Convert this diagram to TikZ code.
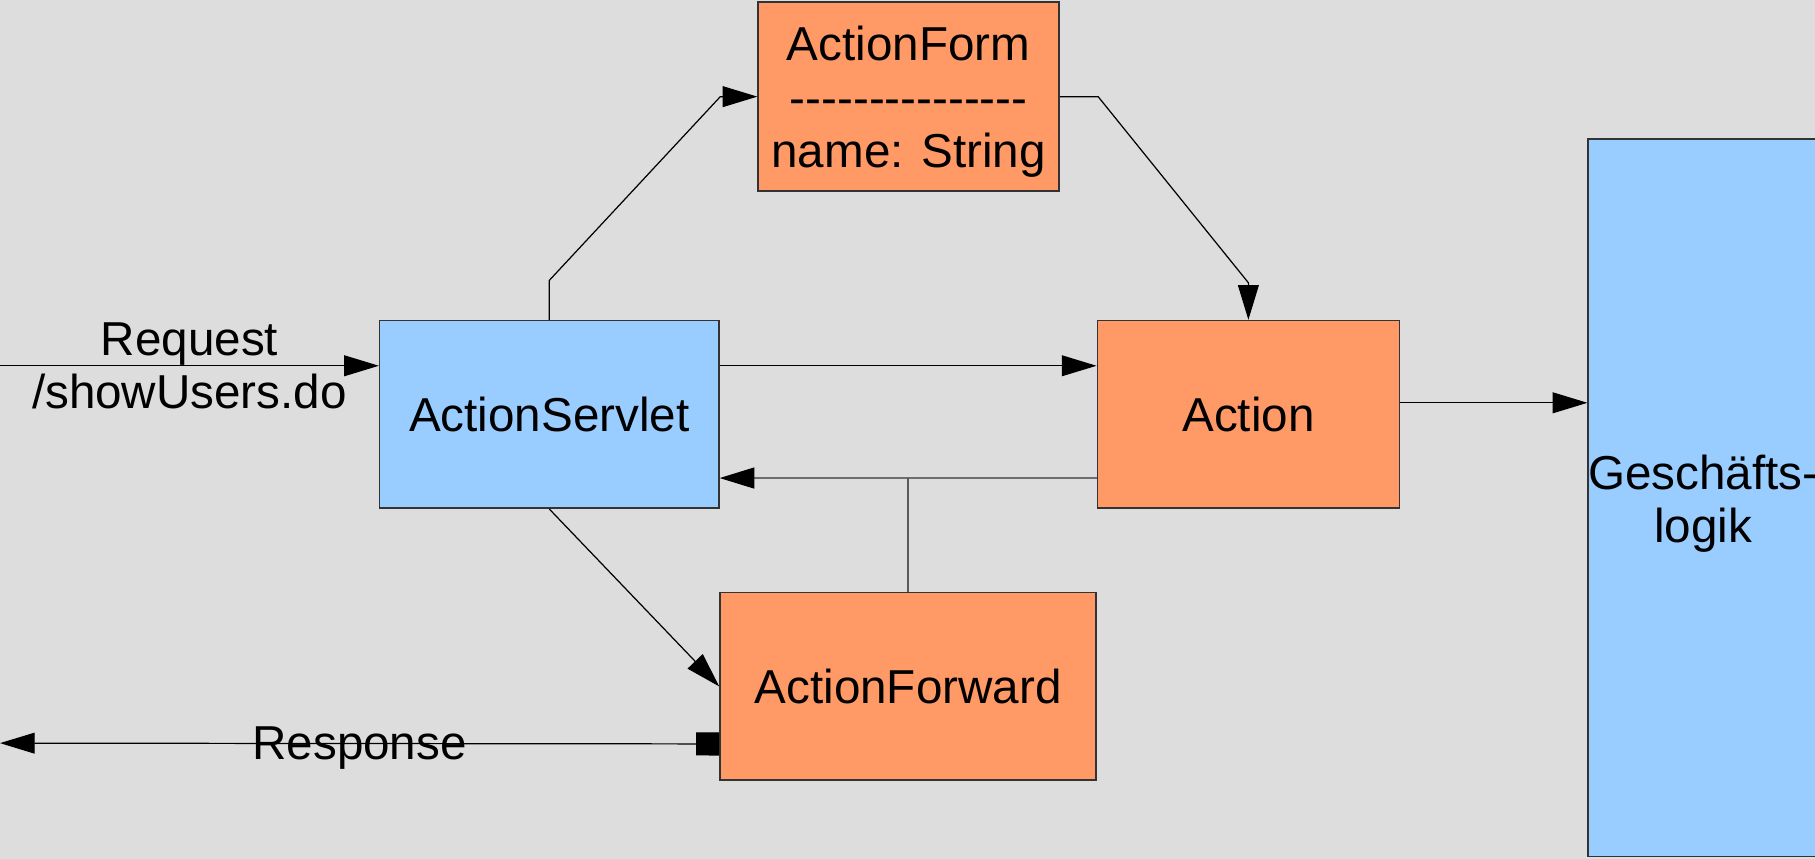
\documentclass[tikz,border=0pt]{standalone}
\usepackage{fontspec}
\setmainfont{Liberation Sans}[Ligatures=TeXOff]
\usetikzlibrary{arrows.meta,calc}
\definecolor{bg}{HTML}{DDDDDD}
\definecolor{orangebox}{HTML}{FF9966}
\definecolor{bluebox}{HTML}{99CCFF}
\begin{document}
\begin{tikzpicture}[x=0.1mm, y=-0.1mm, line width=0.3pt, >={Triangle[length=3mm,width=1.8mm]}, font=\fontsize{11.7}{13.1}\selectfont,main node/.style={rectangle,draw=black!80,line width=0.4pt,align=center,inner sep=0pt},orange node/.style={main node,fill=orangebox},blue node/.style={main node,fill=bluebox}]
\clip (0,0) rectangle (1568,742);
\fill[bg] (0,0) rectangle (1568,742);
\begin{scope}
\node[orange node,minimum width=26mm,minimum height=16.3mm] (form) at (785,83.5) {\rule{0pt}{11pt}ActionForm\\---------------\\name: String};
\node[blue node,minimum width=29.3mm,minimum height=16.2mm] (servlet) at (474.5,358) {ActionServlet};
\node[orange node,minimum width=26.1mm,minimum height=16.2mm] (action) at (1078.5,358) {Action};
\node[orange node,minimum width=32.5mm,minimum height=16.2mm] (fwd) at (784.5,593) {ActionForward};
\node[blue node,minimum width=19.7mm,minimum height=62mm] (logic) at (1471.5,430) {\rule{0pt}{11.4pt}Geschäfts-\\logik};
\coordinate (in) at (0,316);
\coordinate (out) at (0,642);
%\node[main node] (v) at (,) {};
\end{scope}
\begin{scope}
\draw[->] (in) -- node[align=center]{Request\\/showUsers.do} (servlet.west |- in);
\draw[->] (servlet.north) -- ++(0,-34) -- ($(form.west)+(-32,0)$) -- (form.west);
\draw[->] (form.east) -- ++(33,0) -- ($(action.north)+(0,-32)$) -- (action.north);
\draw[->] (servlet.east |- in) -- (action.west |- in);
\draw[->] (action.east |- 0,348) -- (logic.west |- 0,348);
\draw[black!57,line width=0.5pt,-{Triangle[length=3mm,width=1.8mm,black]}] (action.west |- 0,413) -- (servlet.east |- 0,413);
\draw[black!65] (fwd.north) -- (fwd.north |- 0,413);
\draw[->] (servlet.south) -- (fwd.west);
\draw[arrows={Square[length=2mm,width=2mm]-Triangle[length=3mm,width=1.8mm]}] ($(fwd.south west)+(0,-32)$) -- node[yshift=-1.2pt]{Response} (out);
%\draw (v) edge node{} (v);
\end{scope}
\end{tikzpicture}
\end{document}
